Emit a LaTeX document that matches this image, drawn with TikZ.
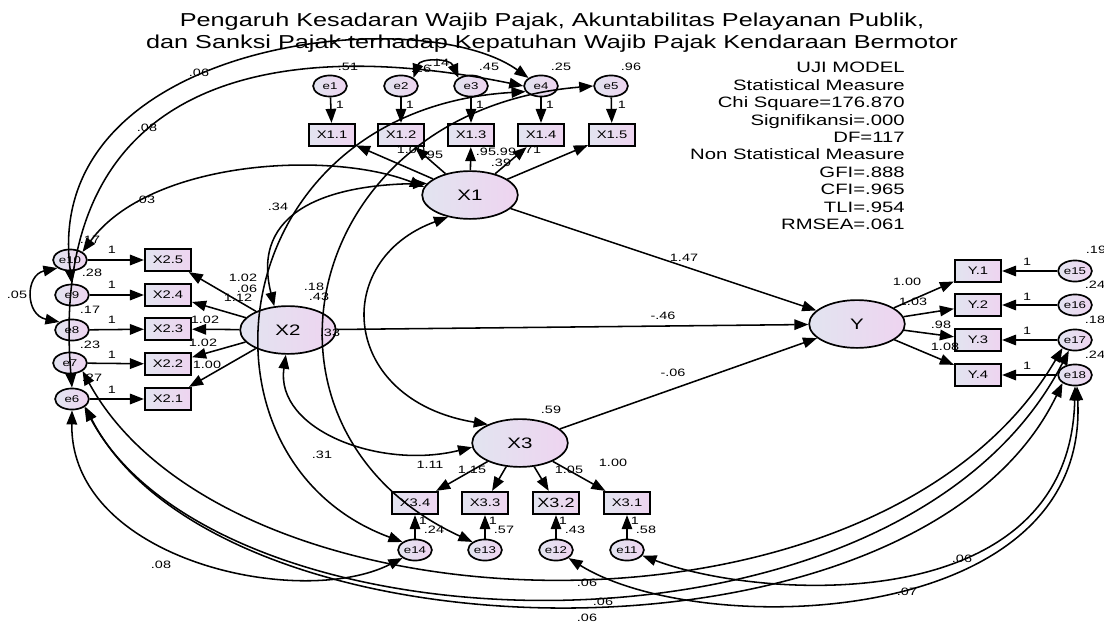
\documentclass[tikz,border=0pt]{standalone}
\usepackage{fontspec}
\setmainfont{Liberation Sans}[FakeStretch=1.35]
\usetikzlibrary{arrows.meta,shapes.geometric}
\definecolor{fillA}{RGB}{226,228,240}
\definecolor{fillB}{RGB}{238,212,240}

\begin{document}
\begin{tikzpicture}[x=0.025cm, y=-0.025cm,
    obs/.style={rectangle, draw, line width=1.2pt, minimum width=33pt, minimum height=16pt, inner sep=0pt, left color=fillA, right color=fillB, font=\fontsize{7.8}{8}\selectfont},
    lat/.style={ellipse, draw, line width=1.2pt, minimum width=68pt, minimum height=34pt, inner sep=0pt, left color=fillA, right color=fillB, font=\fontsize{10.8}{12}\selectfont},
    err/.style={ellipse, draw, line width=1.2pt, minimum width=24pt, minimum height=15pt, inner sep=0pt, left color=fillA, right color=fillB, font=\fontsize{7}{7}\selectfont},
    lbl/.style={inner sep=0pt, font=\fontsize{7.6}{8}\selectfont},
    reg/.style={-{Triangle[length=10pt,width=7.5pt]}, line width=1.1pt},
    cov/.style={{Triangle[length=10pt,width=7.5pt]}-{Triangle[length=10pt,width=7.5pt]}, line width=1.1pt}]
  \useasboundingbox (0,0) rectangle (1104,624);

  \node[align=center, font=\fontsize{13.3}{15.8}\selectfont] (title) at (552,33) {Pengaruh Kesadaran Wajib Pajak, Akuntabilitas Pelayanan Publik,\\dan Sanksi Pajak terhadap Kepatuhan Wajib Pajak Kendaraan Bermotor};
  \node[anchor=north east, align=right, inner sep=0pt, font=\fontsize{10.7}{12.4}\selectfont] (fit) at (905,62) {UJI MODEL\\Statistical Measure\\Chi Square=176.870\\Signifikansi=.000\\DF=117\\Non Statistical Measure\\GFI=.888\\CFI=.965\\TLI=.954\\RMSEA=.061};

  \node[err] (e1) at (330,86) {e1};
  \node[err] (e2) at (401,86) {e2};
  \node[err] (e3) at (471,86) {e3};
  \node[err] (e4) at (541,86) {e4};
  \node[err] (e5) at (611,86) {e5};
  \node[obs] (X11) at (332,135) {X1.1};
  \node[obs] (X12) at (401,135) {X1.2};
  \node[obs] (X13) at (471,135) {X1.3};
  \node[obs] (X14) at (541,135) {X1.4};
  \node[obs] (X15) at (612,135) {X1.5};
  \node[lat] (X1) at (470,195) {X1};
  \node[lat] (X2) at (288,330) {X2};
  \node[lat] (X3) at (520,443) {X3};
  \node[lat] (Y) at (857,324) {Y};
  \node[err] (e10) at (70,260) {e10};
  \node[err] (e9) at (72,295) {e9};
  \node[err] (e8) at (72,330) {e8};
  \node[err] (e7) at (70,363) {e7};
  \node[err] (e6) at (72,399) {e6};
  \node[obs] (X25) at (168,260) {X2.5};
  \node[obs] (X24) at (168,295) {X2.4};
  \node[obs] (X23) at (168,329) {X2.3};
  \node[obs] (X22) at (168,364) {X2.2};
  \node[obs] (X21) at (168,399) {X2.1};
  \node[obs] (Y1) at (978,271) {Y.1};
  \node[obs] (Y2) at (978,305) {Y.2};
  \node[obs] (Y3) at (978,340) {Y.3};
  \node[obs] (Y4) at (978,375) {Y.4};
  \node[err] (e15) at (1075,271) {e15};
  \node[err] (e16) at (1075,305) {e16};
  \node[err] (e17) at (1075,340) {e17};
  \node[err] (e18) at (1075,375) {e18};
  \node[obs] (X34) at (415,503) {X3.4};
  \node[obs] (X33) at (485,503) {X3.3};
  \node[obs, font=\fontsize{9.5}{10}\selectfont] (X32) at (556,503) {X3.2};
  \node[obs] (X31) at (627,503) {X3.1};
  \node[err] (e14) at (415,550) {e14};
  \node[err] (e13) at (485,550) {e13};
  \node[err] (e12) at (556,550) {e12};
  \node[err] (e11) at (627,550) {e11};

  \draw[reg] (e1) -- (X11);
  \draw[reg] (e2) -- (X12);
  \draw[reg] (e3) -- (X13);
  \draw[reg] (e4) -- (X14);
  \draw[reg] (e5) -- (X15);
  \draw[reg] (X1) -- (X11);
  \draw[reg] (X1) -- (X12);
  \draw[reg] (X1) -- (X13);
  \draw[reg] (X1) -- (X14);
  \draw[reg] (X1) -- (X15);
  \draw[reg] (e10) -- (X25);
  \draw[reg] (e9) -- (X24);
  \draw[reg] (e8) -- (X23);
  \draw[reg] (e7) -- (X22);
  \draw[reg] (e6) -- (X21);
  \draw[reg] (X2) -- (X25);
  \draw[reg] (X2) -- (X24);
  \draw[reg] (X2) -- (X23);
  \draw[reg] (X2) -- (X22);
  \draw[reg] (X2) -- (X21);
  \draw[reg] (X1) -- (Y);
  \draw[reg] (X2) -- (Y);
  \draw[reg] (X3) -- (Y);
  \draw[reg] (Y) -- (Y1);
  \draw[reg] (Y) -- (Y2);
  \draw[reg] (Y) -- (Y3);
  \draw[reg] (Y) -- (Y4);
  \draw[reg] (e15) -- (Y1);
  \draw[reg] (e16) -- (Y2);
  \draw[reg] (e17) -- (Y3);
  \draw[reg] (e18) -- (Y4);
  \draw[reg] (X3) -- (X34);
  \draw[reg] (X3) -- (X33);
  \draw[reg] (X3) -- (X32);
  \draw[reg] (X3) -- (X31);
  \draw[reg] (e14) -- (X34);
  \draw[reg] (e13) -- (X33);
  \draw[reg] (e12) -- (X32);
  \draw[reg] (e11) -- (X31);

  \draw[cov] (e2.north east) .. controls (420,58) and (450,58) .. (e3.north west);
  \draw[cov] (e9.north) .. controls (40,40) and (420,0) .. (e4.north west);
  \draw[cov] (e6.north) .. controls (45,60) and (300,40) .. (e4.west);
  \draw[cov] (e10.north east) .. controls (150,160) and (330,150) .. (X1.170);
  \draw[cov] (X2.120) .. controls (250,210) and (330,185) .. (X1.165);
  \draw[cov] (X1.225) .. controls (330,260) and (340,400) .. (X3.150);
  \draw[cov] (X2.265) .. controls (275,430) and (380,470) .. (X3.185);
  \draw[cov] (e4.200) .. controls (220,110) and (180,460) .. (e14.north west);
  \draw[cov] (e5.west) .. controls (300,110) and (230,430) .. (e13.north west);
  \draw[cov] (e10.south west) .. controls (25,275) and (25,315) .. (e8.north west);
  \draw[cov] (e6.south) .. controls (70,560) and (300,610) .. (e14.south west);
  \draw[cov] (e7.south east) .. controls (230,640) and (880,660) .. (e17.south west);
  \draw[cov] (e6.south east) .. controls (220,660) and (900,680) .. (e17.240);
  \draw[cov] (e6.-30) .. controls (220,670) and (920,680) .. (e18.south west);
  \draw[cov] (e11.-20) .. controls (760,600) and (1070,620) .. (e18.south);
  \draw[cov] (e12.south east) .. controls (700,640) and (1090,630) .. (e18.-80);

  \node[lbl] (ve1) at (348,67) {.51};
  \node[lbl] (ve2) at (421,69) {.26};
  \node[lbl] (c23) at (439,63) {.14};
  \node[lbl] (ve3) at (489,67) {.45};
  \node[lbl] (ve4) at (561,67) {.25};
  \node[lbl] (ve5) at (631,67) {.96};
  \node[lbl] (f1) at (340,105) {1};
  \node[lbl] (f2) at (410,105) {1};
  \node[lbl] (f3) at (480,105) {1};
  \node[lbl] (f4) at (550,105) {1};
  \node[lbl] (f5) at (622,105) {1};
  \node[lbl] (w11) at (411,150) {1.00};
  \node[lbl] (w12) at (433,155) {.95};
  \node[lbl] (w13) at (486,152) {.95};
  \node[lbl] (w14) at (506,152) {.99};
  \node[lbl] (w15) at (531,150) {.71};
  \node[lbl] (vX1) at (501,163) {.39};
  \node[lbl] (c94) at (199,73) {.06};
  \node[lbl] (c64) at (147,128) {.08};
  \node[lbl] (c101) at (145,200) {.03};
  \node[lbl] (c12) at (278,207) {.34};
  \node[lbl] (c108) at (17,295) {.05};
  \node[lbl] (ve10) at (90,240) {.17};
  \node[lbl] (ve9) at (92,273) {.28};
  \node[lbl] (ve8) at (90,310) {.17};
  \node[lbl] (ve7) at (90,345) {.23};
  \node[lbl] (ve6) at (92,378) {.27};
  \node[lbl] (f10) at (112,250) {1};
  \node[lbl] (f9) at (112,285) {1};
  \node[lbl] (f8) at (112,320) {1};
  \node[lbl] (f7) at (112,355) {1};
  \node[lbl] (f6) at (112,390) {1};
  \node[lbl] (w25) at (243,278) {1.02};
  \node[lbl] (cX2) at (247,289) {.06};
  \node[lbl] (w24) at (238,298) {1.12};
  \node[lbl] (w23) at (205,320) {1.02};
  \node[lbl] (w22) at (203,343) {1.02};
  \node[lbl] (w21) at (207,365) {1.00};
  \node[lbl] (c513) at (314,287) {.18};
  \node[lbl] (c13) at (319,297) {.43};
  \node[lbl] (vX2) at (330,333) {.33};
  \node[lbl] (c414) at (322,455) {.31};
  \node[lbl] (b1) at (684,258) {1.47};
  \node[lbl] (b2) at (663,316) {-.46};
  \node[lbl] (b3) at (673,373) {-.06};
  \node[lbl] (vX3) at (551,410) {.59};
  \node[lbl] (wY1) at (907,282) {1.00};
  \node[lbl] (wY2) at (913,302) {1.03};
  \node[lbl] (wY3) at (941,325) {.98};
  \node[lbl] (wY4) at (945,347) {1.08};
  \node[lbl] (f15) at (1027,262) {1};
  \node[lbl] (f16) at (1027,297) {1};
  \node[lbl] (f17) at (1027,331) {1};
  \node[lbl] (f18) at (1027,366) {1};
  \node[lbl] (ve15) at (1096,250) {.19};
  \node[lbl] (ve16) at (1095,285) {.24};
  \node[lbl] (ve17) at (1095,320) {.18};
  \node[lbl] (ve18) at (1095,355) {.24};
  \node[lbl] (w34) at (430,465) {1.11};
  \node[lbl] (w33) at (472,470) {1.15};
  \node[lbl] (w32) at (569,470) {1.05};
  \node[lbl] (w31) at (613,463) {1.00};
  \node[lbl] (f14) at (423,521) {1};
  \node[lbl] (f13) at (493,521) {1};
  \node[lbl] (f12) at (563,521) {1};
  \node[lbl] (f11) at (635,521) {1};
  \node[lbl] (ve14) at (434,530) {.24};
  \node[lbl] (ve13) at (504,530) {.57};
  \node[lbl] (ve12) at (575,530) {.43};
  \node[lbl] (ve11) at (646,530) {.58};
  \node[lbl] (c614) at (161,565) {.08};
  \node[lbl] (c717) at (587,583) {.06};
  \node[lbl] (c617) at (603,602) {.06};
  \node[lbl] (c618) at (587,618) {.06};
  \node[lbl] (c1218) at (907,592) {.07};
  \node[lbl] (c1118) at (962,559) {.06};
\end{tikzpicture}
\end{document}
